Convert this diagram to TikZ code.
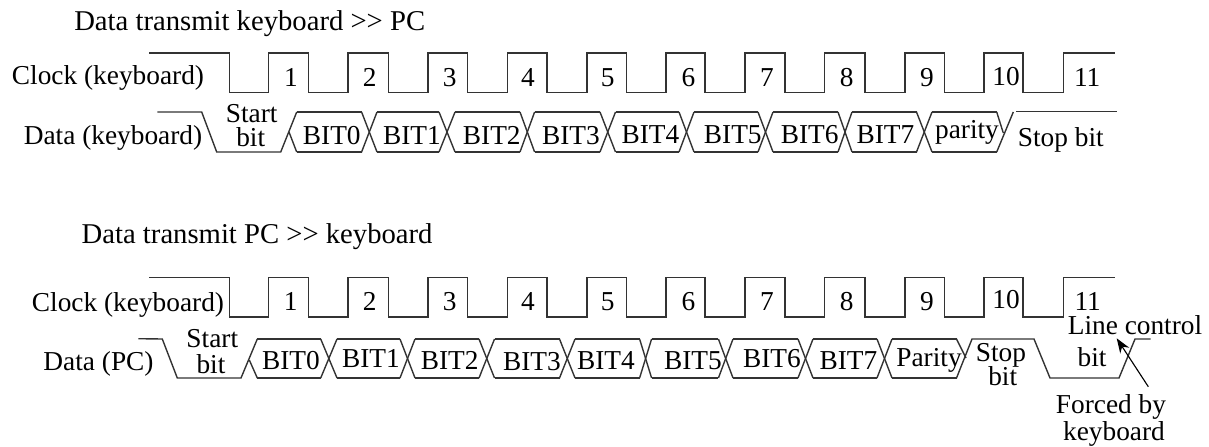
\documentclass[tikz,border=0pt]{standalone}
\usepackage{fontspec}
\setmainfont{Liberation Serif}
\usetikzlibrary{arrows.meta}
\tikzset{
  wave/.style={line width=1.05pt,draw=black!80,line join=miter},
  lbl/.style={anchor=base,inner sep=0pt,outer sep=0pt,font=\fontsize{20.5pt}{22pt}\selectfont,text=black},
  ttl/.style={anchor=base west,inner sep=0pt,outer sep=0pt,font=\fontsize{21.5pt}{23pt}\selectfont,text=black},
  pointer/.style={line width=0.85pt,draw=black,-{Stealth[length=11pt,width=8pt]}}
}
\begin{document}
\begin{tikzpicture}[x=0.75pt,y=-0.75pt]
\useasboundingbox (0,0) rectangle (1209,446);
% clocks
\foreach \top/\low in {53/92.7,277.7/317}{
  \draw[wave] (149.3,\top) -- (229.3,\top) -- (229.3,\low)
    -- (268.7,\low) -- (268.7,\top) -- (308.3,\top) -- (308.3,\low)
    -- (348,\low) -- (348,\top) -- (388.5,\top) -- (388.5,\low)
    -- (428,\low) -- (428,\top) -- (467.7,\top) -- (467.7,\low)
    -- (507.5,\low) -- (507.5,\top) -- (547,\top) -- (547,\low)
    -- (587,\low) -- (587,\top) -- (626.4,\top) -- (626.4,\low)
    -- (666,\low) -- (666,\top) -- (705,\top) -- (705,\low)
    -- (745,\low) -- (745,\top) -- (785,\top) -- (785,\low)
    -- (824.5,\low) -- (824.5,\top) -- (865,\top) -- (865,\low)
    -- (905,\low) -- (905,\top) -- (944.5,\top) -- (944.5,\low)
    -- (984,\low) -- (984,\top) -- (1023,\top) -- (1023,\low)
    -- (1063.3,\low) -- (1063.3,\top) -- (1115,\top);
  \draw[wave] (166,\top) -- ++(0,-1.2);
}
% row 1 data
\def\T{112}\def\B{152}
\draw[wave] (157.3,\T) -- (201.7,\T) -- (216.7,\B) -- (280.7,\B) -- (296.7,\T);
\draw[wave] (296.7,\B) -- (289,132);
\foreach \a/\b [remember=\b as \pb (initially 296.7)] in {296.7/361.6,377/439,455/520,534.6/600,615.5/679,694/758,773/838,852/916.5,932/996.7}{
  \draw[wave] (\a,\T) -- (\b,\T);
  \draw[wave] (\a,\B) -- (\b,\B);
  \ifdim\a pt>296.7pt
    \draw[wave] (\pb,\T) -- (\a,\B);
    \draw[wave] (\pb,\B) -- (\a,\T);
  \fi
}
\draw[wave] (996.7,\B) -- (1013.3,\T);
\draw[wave] (996.7,\T) -- (1003.3,133);
\draw[wave] (1016,111.7) -- (1117.3,111.7);
% row 2 data
\def\U{339}\def\V{378}
\draw[wave] (138.3,338.7) -- (162.3,\U) -- (177.3,\V) -- (241,\V) -- (257.3,\U);
\draw[wave] (257.3,\V) -- (249.3,360);
\foreach \a/\b [remember=\b as \pb (initially 257.3)] in {257.3/320.7,337/400,415/479,494.5/559.5,575/639.6,651.6/718.4,733/798,813/877,892/956.5}{
  \draw[wave] (\a,\U) -- (\b,\U);
  \draw[wave] (\a,\V) -- (\b,\V);
  \ifdim\a pt>257.3pt
    \draw[wave] (\pb,\U) -- (\a,\V);
    \draw[wave] (\pb,\V) -- (\a,\U);
  \fi
}
\draw[wave] (956.5,\V) -- (972,\U) -- (1034,\U) -- (1050,\V) -- (1119,\V) -- (1135,\U) -- (1150.7,\U);
\draw[wave] (956.5,\U) -- (966,358);
% titles
\node[ttl] (a) at (74.3,30) {Data transmit keyboard {>}{>} PC};
\node[ttl] (h) at (81.7,243) {Data transmit PC {>}{>} keyboard};
% text
\foreach \n/\x/\y/\t in {
  b/108/84.3/{Clock (keyboard)},
  c/113/144.3/{Data (keyboard)},
  d/251.7/122.3/{Start},
  e/250.7/146.7/{bit},
  f1/291/86.3/1,f2/369.7/86.3/2,f3/449.7/86.3/3,f4/528/86.3/4,f5/607.8/86.7/5,
  f6/688.5/86.7/6,f7/767/86.7/7,f8/846.6/86.7/8,f9/927/86.7/9,f10/1006/85/10,f11/1087.2/86.7/11,
  g0/331.8/144/BIT0,g1/412/144/BIT1,g2/491.8/144/BIT2,g3/571/144/BIT3,
  g4/650.5/143/BIT4,g5/732.8/143/BIT5,g6/809.7/143/BIT6,g7/885.4/143/BIT7,
  g8/967/138.3/parity,g9/1060.8/146.7/{Stop bit},
  i/128/311/{Clock (keyboard)},
  j/98.5/370/{Data (PC)},
  k/212.3/347.7/{Start},
  l/211/373.7/{bit},
  m1/290.7/310/1,m2/369.7/310/2,m3/449.7/310/3,m4/528/310/4,m5/607.8/310/5,
  m6/688.5/310/6,m7/767/310/7,m8/846.6/310/8,m9/927/310/9,m10/1006/308.3/10,m11/1087.7/310/11,
  n0/290.9/369.3/BIT0,n1/371/367.7/BIT1,n2/449.7/369.3/BIT2,n3/532/370/BIT3,
  n4/606/369.3/BIT4,n5/693/369.3/BIT5,n6/772/367.3/BIT6,n7/848.5/369.3/BIT7,
  n8/929/366.7/Parity,
  o/1001/361.7/Stop,p/1002.7/385.7/bit,
  q/1135/334/{Line control},
  r/1092/366/bit,
  s/1111/413.3/{Forced by},
  u/1114/440/keyboard}{
  \node[lbl] (\n) at (\x,\y) {\t};
}
% pointer
\coordinate (ptail) at (1148.3,386.7);
\coordinate (phead) at (1116.7,338.3);
\draw[pointer] (ptail) -- (phead);
\end{tikzpicture}
\end{document}
